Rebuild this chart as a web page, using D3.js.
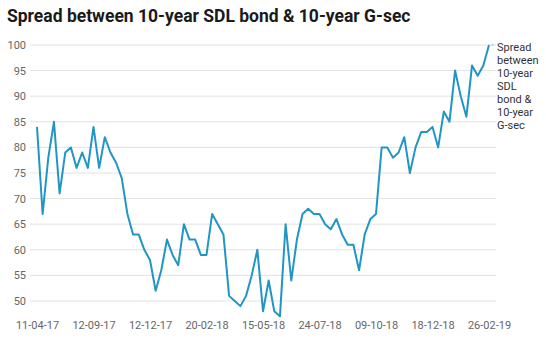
<!DOCTYPE html>
<html><head><meta charset="utf-8">
<script src="https://cdn.jsdelivr.net/npm/d3@7"></script>
<style>
body{margin:0;background:#fff;}
svg{display:block;font-family:Roboto,"Noto Sans",sans-serif;}
</style></head>
<body><svg id="c" width="546" height="342"></svg>
<script>
const title = "Spread between 10-year SDL bond & 10-year G-sec";
const seriesName = ["Spread","between","10-year","SDL","bond &","10-year","G-sec"];
const dates = ["11-04-17","12-09-17","12-12-17","20-02-18","15-05-18","24-07-18","09-10-18","18-12-18","26-02-19"];
const values = [84,67,78,85,71,79,80,76,79,76,84,76,82,79,77,74,
  67,63,63,60,58,52,56,62,59,57,65,62,62,59,59,67,
  65,63,51,50,49,51,55,60,48,54,48,47,65,54,62,67,
  68,67,67,65,64,66,63,61,61,56,63,66,67,80,80,78,
  79,82,75,80,83,83,84,80,87,85,95,90,86,96,94,96,100];
const yTicks = [50,55,60,65,70,75,80,85,90,95,100];

const svg = d3.select("#c");
svg.append("text").attr("x",7).attr("y",22).attr("font-size",17.5).attr("font-weight",700)
  .attr("fill","#1a1a1a").text(title);

const x = d3.scaleLinear().domain([0, values.length-1]).range([37, 489]);
const y = d3.scaleLinear().domain([50,100]).range([301,45]);

const grid = svg.append("g");
grid.selectAll("line").data(yTicks).join("line")
  .attr("x1",30).attr("x2",496).attr("y1",d=>y(d)).attr("y2",d=>y(d))
  .attr("stroke","#e2e2e2").attr("stroke-width",1);

const yAxis = d3.axisLeft(y).tickValues(yTicks).tickSize(0).tickPadding(0);
svg.append("g").attr("transform","translate(26,0)").call(yAxis)
  .call(g=>g.select(".domain").remove())
  .call(g=>g.selectAll("text").attr("font-size",11).attr("fill","#666").attr("font-family","Roboto,sans-serif"));

const xAxis = d3.axisBottom(x).tickValues(dates.map((d,i)=>i*10)).tickFormat((d,i)=>dates[i]).tickSize(0).tickPadding(0);
svg.append("g").attr("transform","translate(0,321)").call(xAxis)
  .call(g=>g.select(".domain").remove())
  .call(g=>g.selectAll("text").attr("font-size",11).attr("fill","#666").attr("font-family","Roboto,sans-serif"));

const line = d3.line().x((d,i)=>x(i)).y(d=>y(d));
svg.append("path").datum(values).attr("d",line).attr("fill","none")
  .attr("stroke","#2196c4").attr("stroke-width",2).attr("stroke-linejoin","round");

svg.append("circle").attr("cx",x(values.length-1)+3.5).attr("cy",y(values[values.length-1]))
  .attr("r",1).attr("fill","#9fd3ea");

const lab = svg.append("text").attr("x",497).attr("y",51).attr("font-size",11).attr("fill","#333");
seriesName.forEach((t,i)=>lab.append("tspan").attr("x",497).attr("dy",i?13:0).text(t));
</script></body></html>
